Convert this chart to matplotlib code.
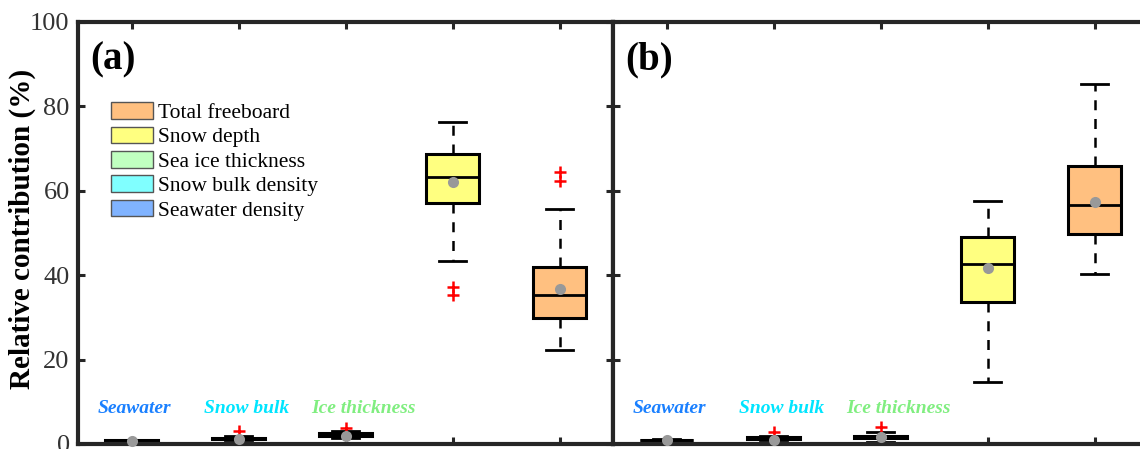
import matplotlib
matplotlib.use('Agg')
import matplotlib.pyplot as plt
from matplotlib.patches import Patch


categories = ['Seawater density', 'Snow bulk density', 'Sea ice thickness',
              'Snow depth', 'Total freeboard']
short_names = ['Seawater', 'Snow bulk', 'Ice thickness']

# panel (a)
lo_a = [0.6, 0.9, 1.35, 43.3, 22.3]
q1_a = [0.7, 1.1, 1.9, 57.0, 29.8]
med_a = [0.8, 1.3, 2.3, 63.2, 35.3]
q3_a = [0.9, 1.5, 2.6, 68.7, 42.0]
hi_a = [1.0, 1.8, 3.15, 76.4, 55.7]
mean_a = [0.8, 1.1, 2.0, 62.0, 36.7]
fliers_a = [[], [3.1], [3.9], [37.3, 35.3], [64.5, 62.4]]

# panel (b)
lo_b = [0.75, 0.9, 0.55, 14.8, 40.2]
q1_b = [0.85, 1.15, 1.4, 33.6, 49.8]
med_b = [0.95, 1.35, 1.7, 42.6, 56.6]
q3_b = [1.05, 1.55, 2.0, 49.1, 65.9]
hi_b = [1.15, 1.8, 2.9, 57.7, 85.3]
mean_b = [0.9, 1.0, 1.65, 41.8, 57.4]
fliers_b = [[], [2.9], [4.1], [], []]

box_colors = ['#80B3FF', '#80FFFF', '#C0FFC0', '#FFFF80', '#FFC080']
text_colors = ['#1A80FF', '#00E5FF', '#80EE80']
legend_order = [4, 3, 2, 1, 0]

spine_color = '#262626'

plt.rcParams['font.family'] = 'Liberation Serif'
plt.rcParams['xtick.direction'] = 'in'
plt.rcParams['ytick.direction'] = 'in'


def make_stats(lo, q1, med, q3, hi, mean, fliers):
    stats = []
    for i in range(len(lo)):
        stats.append(dict(whislo=lo[i], q1=q1[i], med=med[i], q3=q3[i],
                          whishi=hi[i], mean=mean[i], fliers=fliers[i]))
    return stats


def draw_panel(ax, stats, tag):
    bp = ax.bxp(stats, positions=range(1, 6), widths=0.5, capwidths=0.25,
                patch_artist=True, showmeans=True,
                boxprops=dict(edgecolor='black', linewidth=2.2),
                medianprops=dict(color='black', linewidth=2.0),
                whiskerprops=dict(color='black', linewidth=1.8, linestyle=(0, (4, 3.5))),
                capprops=dict(color='black', linewidth=2.0),
                meanprops=dict(marker='o', markerfacecolor='#999999',
                               markeredgecolor='none', markersize=8),
                flierprops=dict(marker='+', markeredgecolor='red',
                                markersize=8, markeredgewidth=1.8))
    for patch, c in zip(bp['boxes'], box_colors):
        patch.set_facecolor(c)
    for m in bp['means']:
        m.set_clip_on(False)
        m.set_zorder(5)

    ax.set_xlim(0.5, 5.5)
    ax.set_ylim(0, 100)
    ax.set_yticks([0, 20, 40, 60, 80, 100])
    ax.set_xticks(range(1, 6))
    ax.tick_params(axis='both', which='both', top=True, right=True,
                   labelbottom=False, length=5, width=2.2, color=spine_color,
                   labelsize=19, labelcolor='#333333', pad=6)
    for sp in ax.spines.values():
        sp.set_linewidth(3)
        sp.set_color(spine_color)

    for i, name in enumerate(short_names):
        ax.text(i + 1 - 0.32, 8.3, name, color=text_colors[i], fontsize=14,
                fontweight='bold', fontstyle='italic', ha='left', va='center')

    ax.text(0.022, 0.955, tag, transform=ax.transAxes, fontsize=28,
            fontweight='bold', ha='left', va='top')


fig = plt.figure(figsize=(11.4, 4.49), dpi=100)
ax1 = fig.add_axes([78 / 1140, 5 / 449, 535 / 1140, 422 / 449])
ax2 = fig.add_axes([613 / 1140, 5 / 449, 535 / 1140, 422 / 449])

draw_panel(ax1, make_stats(lo_a, q1_a, med_a, q3_a, hi_a, mean_a, fliers_a), '(a)')
draw_panel(ax2, make_stats(lo_b, q1_b, med_b, q3_b, hi_b, mean_b, fliers_b), '(b)')
ax2.tick_params(labelleft=False)

ax1.set_ylabel('Relative contribution (%)', fontsize=21, fontweight='bold')
ax1.yaxis.set_label_coords(-0.078, 0.51)

handles = [Patch(facecolor=box_colors[i], edgecolor='#555555', linewidth=1.0,
                 label=categories[i]) for i in legend_order]
ax1.legend(handles=handles, loc='upper left', bbox_to_anchor=(0.045, 0.83),
           frameon=False, fontsize=15.5, handlelength=1.95, handleheight=0.8,
           handletextpad=0.25, labelspacing=0.17, borderaxespad=0)

fig.savefig('out.png', dpi=100)
